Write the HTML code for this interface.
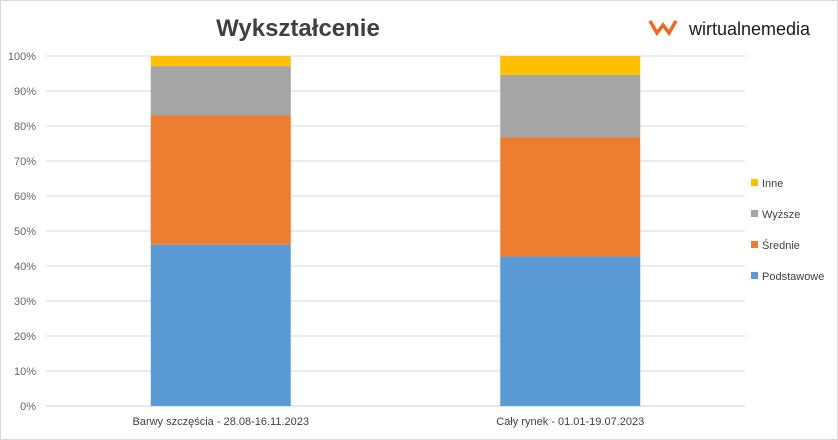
<!DOCTYPE html>
<html><head><meta charset="utf-8"><style>
html,body{margin:0;padding:0;background:#fff;}
svg{display:block;font-family:"Liberation Sans",sans-serif;}
</style></head><body>
<svg id="chart" width="838" height="440" viewBox="0 0 838 440">
<rect x="0.5" y="0.5" width="837" height="439" fill="#fff" stroke="#d9d9d9"/>
<text x="298" y="36" text-anchor="middle" font-size="24" font-weight="bold" fill="#404040">Wykształcenie</text>
<g>
<path d="M650 21 L657 33 L663 25 L669 33 L676 21" fill="none" stroke="#f26522" stroke-width="3.5"/>
<text x="689" y="35" font-size="18" fill="#1a1a1a">wirtualnemedia</text>
</g>
<g id="grid"></g><g id="bars"></g><g id="labels"></g><g id="legend"></g>
</svg>
<script>
const categories=["Barwy szczęścia - 28.08-16.11.2023","Cały rynek - 01.01-19.07.2023"];
const seriesNames=["Podstawowe","Średnie","Wyższe","Inne"];
const podstawowe=[46.1,42.7];
const srednie=[36.9,34.0];
const wyzsze=[14.1,17.9];
const inne=[2.9,5.4];
const ticks=[0,10,20,30,40,50,60,70,80,90,100];
const colors=["#5b9bd5","#ed7d31","#a5a5a5","#ffc000"];
const NS="http://www.w3.org/2000/svg";
const x0=46,x1=745,yBot=406,yTop=56;
function y(v){return yBot-(v/100)*(yBot-yTop);}
function xc(i){const w=(x1-x0)/categories.length;return x0+w*(i+0.5);}
function mk(t,a,p){const e=document.createElementNS(NS,t);for(const k in a)e.setAttribute(k,a[k]);p.appendChild(e);return e;}
const grid=document.getElementById('grid'),bars=document.getElementById('bars'),labels=document.getElementById('labels'),legend=document.getElementById('legend');
ticks.forEach(t=>{
 const l=mk('line',{x1:x0,x2:x1,y1:y(t),y2:y(t),stroke:t===0?'#d0d0d0':'#d9d9d9','stroke-width':1},grid);
 
 
 const tx=mk('text',{x:36,y:y(t)+4,'text-anchor':'end','font-size':11,fill:'#666'},labels);
 tx.textContent=t+'%';
 
 
});
const series=[podstawowe,srednie,wyzsze,inne];
categories.forEach((c,i)=>{
 let acc=0;const bw=140;
 series.forEach((s,k)=>{
  const v=s[i];
  const r=mk('rect',{x:xc(i)-bw/2,y:y(acc+v),width:bw,height:y(acc)-y(acc+v),fill:colors[k]},bars);
  
  
  acc+=v;
 });
 const tx=mk('text',{x:xc(i),y:425,'text-anchor':'middle','font-size':11,fill:'#404040'},labels);
 tx.textContent=c;
 
 
});
const ly=[276,245,214,183];
seriesNames.forEach((n,k)=>{
 const r=mk('rect',{x:751,y:ly[k]-4,width:7,height:7,fill:colors[k]},legend);
 
 
 const t=mk('text',{x:762,y:ly[k]+4,'font-size':11,fill:'#404040'},legend);
 t.textContent=n;
 
 
});
</script>
</body></html>
